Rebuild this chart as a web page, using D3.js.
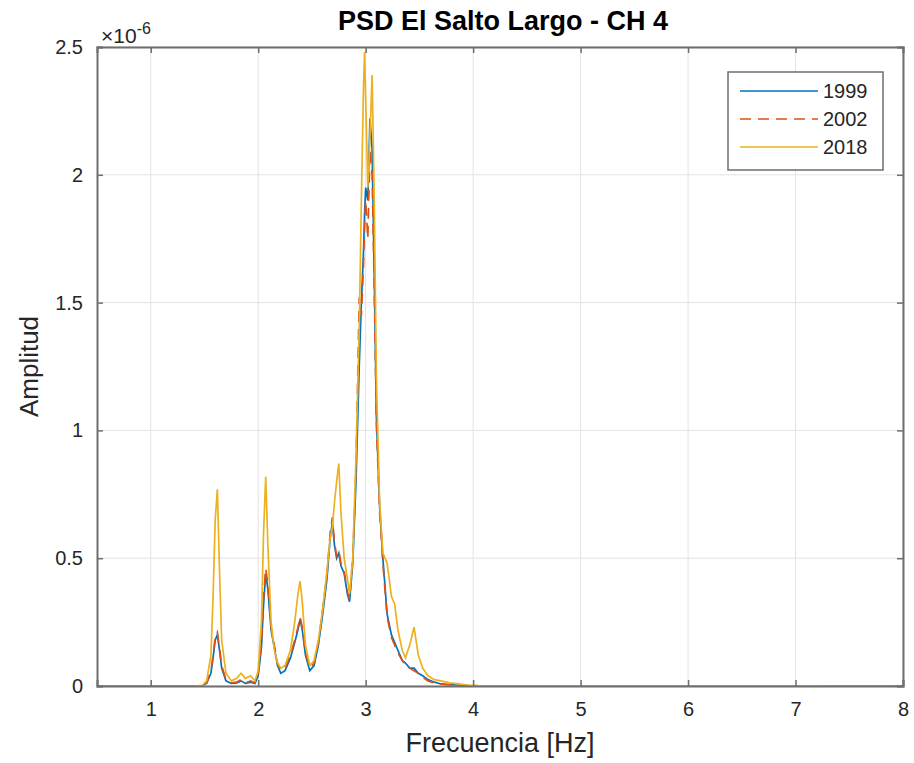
<!DOCTYPE html>
<html><head><meta charset="utf-8">
<script src="https://cdn.jsdelivr.net/npm/d3@7"></script>
<style>
html,body{margin:0;padding:0;background:#fff;}
text{font-family:"Liberation Sans",Arial,Helvetica,sans-serif;}
</style></head>
<body><svg id="c" width="914" height="763"></svg>
<script>
const freq = [0.5,1.40,1.48,1.52,1.56,1.58,1.60,1.62,1.64,1.66,1.70,1.75,1.80,1.84,1.88,1.93,1.97,2.00,2.03,2.05,2.07,2.09,2.12,2.15,2.18,2.21,2.25,2.30,2.34,2.37,2.39,2.41,2.44,2.48,2.52,2.56,2.60,2.64,2.67,2.69,2.71,2.73,2.75,2.77,2.80,2.83,2.85,2.88,2.91,2.94,2.96,2.98,2.99,3.00,3.02,3.04,3.06,3.08,3.10,3.13,3.16,3.20,3.24,3.27,3.30,3.34,3.37,3.41,3.45,3.49,3.53,3.58,3.64,3.70,3.78,3.86,3.95,4.05,4.3,8.0];
const s1999 = [0,0,0.002,0.01,0.05,0.11,0.18,0.20,0.14,0.07,0.02,0.01,0.012,0.02,0.01,0.015,0.01,0.04,0.15,0.32,0.44,0.38,0.22,0.15,0.08,0.05,0.06,0.11,0.17,0.22,0.26,0.22,0.12,0.06,0.08,0.16,0.28,0.42,0.58,0.64,0.55,0.50,0.52,0.47,0.44,0.36,0.33,0.48,0.80,1.25,1.50,1.70,1.85,1.95,1.90,2.22,2.10,1.60,1.05,0.70,0.50,0.28,0.20,0.17,0.14,0.10,0.09,0.07,0.07,0.05,0.04,0.025,0.015,0.008,0.005,0.004,0.002,0.001,0,0];
const s2002 = [0,0,0.002,0.012,0.06,0.12,0.19,0.21,0.15,0.08,0.025,0.012,0.015,0.025,0.012,0.02,0.012,0.05,0.17,0.35,0.46,0.40,0.23,0.16,0.09,0.06,0.07,0.12,0.18,0.23,0.27,0.23,0.13,0.07,0.09,0.17,0.30,0.44,0.60,0.66,0.56,0.51,0.53,0.48,0.45,0.37,0.34,0.50,0.85,1.52,1.45,1.65,1.80,1.90,1.75,2.10,2.00,1.55,1.02,0.68,0.48,0.27,0.19,0.16,0.13,0.10,0.08,0.07,0.06,0.05,0.035,0.02,0.012,0.007,0.005,0.003,0.002,0.001,0,0];
const s2018 = [0,0,0.003,0.02,0.12,0.35,0.65,0.77,0.45,0.18,0.05,0.02,0.03,0.05,0.03,0.04,0.02,0.06,0.25,0.60,0.82,0.55,0.25,0.14,0.09,0.07,0.08,0.14,0.25,0.36,0.41,0.33,0.16,0.08,0.10,0.18,0.30,0.45,0.58,0.62,0.72,0.80,0.87,0.68,0.50,0.42,0.36,0.50,0.90,1.40,1.90,2.35,2.48,2.30,1.95,2.15,2.39,1.90,1.20,0.72,0.52,0.48,0.35,0.32,0.22,0.14,0.11,0.16,0.23,0.12,0.07,0.04,0.025,0.02,0.012,0.008,0.004,0.002,0.001,0];
const seriesNames = ["1999","2002","2018"];
const seriesColors = ["#0072BD","#D95319","#EDB120"];
const seriesDash = [null,"11,7",null];
const xTicks = [1,2,3,4,5,6,7,8];
const yTicks = [0,0.5,1,1.5,2,2.5];

const svg = d3.select("#c");
const L=97,R=903,T=47,B=686;
const x = d3.scaleLinear().domain([0.5,8]).range([L,R]);
const y = d3.scaleLinear().domain([0,2.5]).range([B,T]);

// grid
const g = svg.append("g");
g.selectAll(".gx").data(xTicks).enter().append("line")
 .attr("x1",d=>x(d)).attr("x2",d=>x(d)).attr("y1",T).attr("y2",B)
 .attr("stroke","#e3e3e3").attr("stroke-width",1);
g.selectAll(".gy").data(yTicks).enter().append("line")
 .attr("x1",L).attr("x2",R).attr("y1",d=>y(d)).attr("y2",d=>y(d))
 .attr("stroke","#e3e3e3").attr("stroke-width",1);

// lines
const allSeries = [s1999,s2002,s2018];
const line = d3.line().x(d=>x(d[0])).y(d=>y(d[1]));
allSeries.forEach((s,i)=>{
  svg.append("path").datum(freq.map((f,j)=>[f,s[j]]))
   .attr("d",line).attr("fill","none")
   .attr("stroke",seriesColors[i]).attr("stroke-width",1.7)
   .attr("stroke-dasharray",seriesDash[i]);
});

// axes
const axB = svg.append("g").attr("transform",`translate(0,${B})`)
 .call(d3.axisBottom(x).tickValues(xTicks).tickSize(-6).tickPadding(16).tickFormat(d3.format("d")));
const axT = svg.append("g").attr("transform",`translate(0,${T})`)
 .call(d3.axisTop(x).tickValues(xTicks).tickSize(-6).tickFormat(""));
const axL = svg.append("g").attr("transform",`translate(${L},0)`)
 .call(d3.axisLeft(y).tickValues(yTicks).tickSize(-6).tickPadding(14).tickFormat(d=>d===0?"0":String(d)));
const axR = svg.append("g").attr("transform",`translate(${R},0)`)
 .call(d3.axisRight(y).tickValues(yTicks).tickSize(-6).tickFormat(""));
[axB,axT,axL,axR].forEach(a=>{
  a.selectAll(".domain").attr("stroke","#6e6e6e").attr("stroke-width",2);
  a.selectAll(".tick line").attr("stroke","#6e6e6e").attr("stroke-width",1.5);
  a.selectAll(".tick text").attr("fill","#262626").style("font-size","20px");
});

// exponent
const ex = svg.append("text").attr("x",101).attr("y",43).attr("fill","#262626").style("font-size","21px");
ex.append("tspan").text("\u00d710");
ex.append("tspan").attr("dy",-9).style("font-size","16px").text("-6");

// title & labels
svg.append("text").attr("x",(L+R)/2+3).attr("y",30).attr("text-anchor","middle")
 .style("font-size","27px").style("font-weight","bold").attr("fill","#000").text("PSD El Salto Largo - CH 4");
svg.append("text").attr("x",(L+R)/2).attr("y",752).attr("text-anchor","middle")
 .style("font-size","27px").attr("fill","#262626").text("Frecuencia [Hz]");
svg.append("text").attr("transform",`translate(38,${(T+B)/2}) rotate(-90)`).attr("text-anchor","middle")
 .style("font-size","26px").attr("fill","#262626").text("Amplitud");

// legend
const lg = svg.append("g");
lg.append("rect").attr("x",728).attr("y",72).attr("width",155).attr("height",98)
 .attr("fill","#fff").attr("stroke","#6e6e6e").attr("stroke-width",1.5);
seriesNames.forEach((n,i)=>{
  const yy = 91 + i*28;
  lg.append("line").attr("x1",740).attr("x2",818).attr("y1",yy).attr("y2",yy)
   .attr("stroke",seriesColors[i]).attr("stroke-width",1.5).attr("stroke-dasharray",seriesDash[i]);
  lg.append("text").attr("x",823).attr("y",yy+7).style("font-size","20px").attr("fill","#262626").text(n);
});
</script></body></html>
